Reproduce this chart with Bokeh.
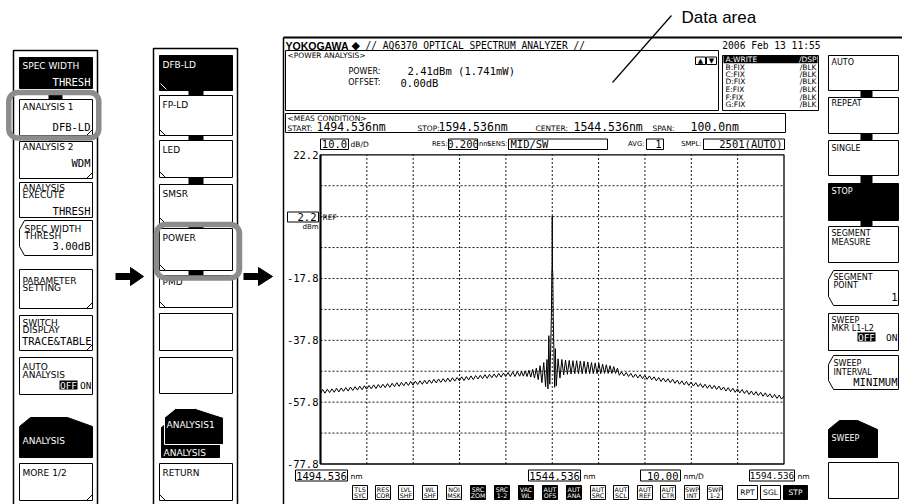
from bokeh.plotting import figure
from bokeh.models import Range1d
from bokeh.core.properties import value
from bokeh.embed import file_html
from bokeh.resources import INLINE

# ---------------- data ----------------
START_NM = 1494.536
STOP_NM = 1594.536
CENTER_NM = 1544.536
SPAN_NM = 100.0
REF_DBM = 2.2
DB_PER_DIV = 10.0
NM_PER_DIV = 10.00
Y_TICK_VALUES = [22.2, -17.8, -37.8, -57.8, -77.8]
Y_TICK_LABELS = ["22.2", "-17.8", "-37.8", "-57.8", "-77.8"]
X_TICK_LABELS = ["1494.536", "1544.536", "1594.536"]

WL_NM = [
    1494.54, 1495.0, 1495.5, 1496.0, 1496.5, 1497.0, 1497.5, 1498.0, 1498.5, 1499.0,
    1499.5, 1500.0, 1500.5, 1501.0, 1501.5, 1502.0, 1502.5, 1503.0, 1503.5, 1504.0,
    1504.5, 1505.0, 1505.5, 1506.0, 1506.5, 1507.0, 1507.5, 1508.0, 1508.5, 1509.0,
    1509.5, 1510.0, 1510.5, 1511.0, 1511.5, 1512.0, 1512.5, 1513.0, 1513.5, 1514.0,
    1514.5, 1515.0, 1515.5, 1516.0, 1516.5, 1517.0, 1517.5, 1518.0, 1518.5, 1519.0,
    1519.5, 1520.0, 1520.5, 1521.0, 1521.5, 1522.0, 1522.5, 1523.0, 1523.5, 1524.0,
    1524.5, 1525.0, 1525.5, 1526.0, 1526.5, 1527.0, 1527.5, 1528.0, 1528.5, 1529.0,
    1529.5, 1530.0, 1530.5, 1531.0, 1531.5, 1532.0, 1532.5, 1533.0, 1533.5, 1534.0,
    1534.5, 1535.0, 1535.5, 1536.0, 1536.5, 1537.0, 1537.5,
    1537.9, 1538.3, 1538.7, 1539.1, 1539.5, 1539.9, 1540.3, 1540.7, 1541.1, 1541.5,
    1541.9, 1542.3, 1542.7, 1543.1, 1543.4, 1543.6, 1543.8, 1544.0, 1544.2, 1544.35,
    1544.45, 1544.5, 1544.536, 1544.58, 1544.65, 1544.75, 1544.9, 1545.05, 1545.2, 1545.4,
    1545.8, 1546.2, 1546.6, 1547.0, 1547.4, 1547.8, 1548.2, 1548.6, 1549.0, 1549.4,
    1549.8, 1550.2, 1550.6, 1551.0, 1551.4, 1551.8, 1552.2, 1552.6, 1553.0, 1553.4,
    1553.8, 1554.2, 1554.6, 1555.0, 1555.4, 1555.8, 1556.2, 1556.6, 1557.0, 1557.4,
    1557.8, 1558.2, 1558.6,
    1559.0, 1559.5, 1560.0, 1560.5, 1561.0, 1561.5, 1562.0, 1562.5, 1563.0, 1563.5,
    1564.0, 1564.5, 1565.0, 1565.5, 1566.0, 1566.5, 1567.0, 1567.5, 1568.0, 1568.5,
    1569.0, 1569.5, 1570.0, 1570.5, 1571.0, 1571.5, 1572.0, 1572.5, 1573.0, 1573.5,
    1574.0, 1574.5, 1575.0, 1575.5, 1576.0, 1576.5, 1577.0, 1577.5, 1578.0, 1578.5,
    1579.0, 1579.5, 1580.0, 1580.5, 1581.0, 1581.5, 1582.0, 1582.5, 1583.0, 1583.5,
    1584.0, 1584.5, 1585.0, 1585.5, 1586.0, 1586.5, 1587.0, 1587.5, 1588.0, 1588.5,
    1589.0, 1589.5, 1590.0, 1590.5, 1591.0, 1591.5, 1592.0, 1592.5, 1593.0, 1593.5,
    1594.0, 1594.53,
]
LEVEL_DBM = [
    -55.0, -53.7, -54.9, -53.6, -54.7, -53.5, -54.6, -53.3, -54.5, -53.2,
    -54.3, -53.1, -54.2, -52.9, -54.0, -52.8, -53.9, -52.6, -53.8, -52.5,
    -53.6, -52.4, -53.5, -52.2, -53.4, -52.1, -53.2, -52.0, -53.1, -51.8,
    -53.0, -51.7, -52.8, -51.5, -52.7, -51.4, -52.5, -51.3, -52.4, -51.1,
    -52.3, -51.0, -52.1, -50.9, -52.0, -50.7, -51.9, -50.6, -51.7, -50.4,
    -51.6, -50.3, -51.4, -50.2, -51.3, -50.0, -51.2, -49.9, -51.0, -49.8,
    -50.9, -49.6, -50.8, -49.5, -50.6, -49.3, -50.5, -49.2, -50.3, -49.1,
    -50.2, -48.9, -50.1, -48.8, -49.9, -48.7, -49.8, -48.5, -49.7, -48.4,
    -49.5, -48.2, -49.5, -48.0, -49.5, -47.9, -49.4,
    -47.9, -49.4, -47.7, -49.5, -47.5, -49.7, -47.2, -50.0, -46.8, -50.5,
    -46.0, -51.5, -45.0, -52.8, -44.0, -53.5, -36.3, -52.0, -40.0, -30.0,
    -15.5, -14.0, 2.4, -14.5, -16.0, -30.0, -42.0, -53.0, -40.5, -52.5,
    -43.8, -50.0, -44.0, -49.0, -44.2, -48.8, -44.3, -48.7, -44.4, -48.6,
    -44.4, -48.6, -44.5, -48.6, -44.6, -48.6, -44.8, -48.6, -45.0, -48.6,
    -45.1, -48.6, -45.3, -48.6, -45.5, -48.5, -45.7, -48.5, -46.0, -48.5,
    -46.3, -48.5, -46.8,
    -49.1, -48.0, -49.3, -48.2, -49.5, -48.5, -49.8, -48.7, -50.0, -48.9,
    -50.2, -49.1, -50.4, -49.3, -50.6, -49.6, -50.9, -49.8, -51.1, -50.0,
    -51.3, -50.2, -51.5, -50.4, -51.7, -50.7, -52.0, -50.9, -52.2, -51.1,
    -52.4, -51.3, -52.6, -51.5, -52.8, -51.8, -53.1, -52.0, -53.3, -52.2,
    -53.5, -52.4, -53.7, -52.6, -53.9, -52.9, -54.2, -53.1, -54.4, -53.3,
    -54.6, -53.5, -54.8, -53.7, -55.0, -54.0, -55.3, -54.2, -55.5, -54.4,
    -55.7, -54.6, -55.9, -54.8, -56.1, -55.1, -56.4, -55.3, -56.6, -55.5,
    -56.8, -55.8,
]

# ---------------- page / layout (page pixel space) ----------------
REF_W, REF_H = 902, 504
PX_L, PX_R, PX_T, PX_B = 320.0, 783.5, 154.3, 463.5   # plot frame in page pixels

LBL = "DejaVu Sans"
MONO = "DejaVu Sans Mono"
VAL = 10.5

p = figure(width=REF_W, height=REF_H, x_range=Range1d(0, REF_W), y_range=Range1d(REF_H, 0),
           output_backend="svg", toolbar_location=None, min_border=0,
           x_axis_location=None, y_axis_location=None, outline_line_color=None)
p.grid.visible = False
p.background_fill_color = "white"
p.border_fill_color = "white"

TOP_DBM = REF_DBM + 2 * DB_PER_DIV
BOT_DBM = REF_DBM - 8 * DB_PER_DIV
nm_per_px = (STOP_NM - START_NM) / (PX_R - PX_L)
db_per_px = (TOP_DBM - BOT_DBM) / (PX_B - PX_T)
p.extra_x_ranges = {"wl": Range1d(START_NM - PX_L * nm_per_px, START_NM + (REF_W - PX_L) * nm_per_px)}
p.extra_y_ranges = {"db": Range1d(TOP_DBM - (REF_H - PX_T) * db_per_px, TOP_DBM + PX_T * db_per_px)}


def T(x, y, s, size=9, color="black", align="left", font=LBL, bold=False, **kw):
    p.text(x=[x], y=[y], text=[s], text_font=value(font), text_font_size=f"{size}px",
           text_color=color, text_align=align, text_baseline="middle",
           text_font_style="bold" if bold else "normal", **kw)


def box(x0, x1, y0, y1, fill="white", line="black", lw=1.0, **kw):
    p.quad(left=[x0], right=[x1], top=[y0], bottom=[y1], fill_color=fill,
           line_color=line, line_width=lw, **kw)


def chevron(x0, x1, y0, y1):
    p.patch([x0 + 5, x1, x1, x0 + 5, x0, x0], [y0, y0, y1, y1, y1 - 9, y0 + 9],
            fill_color="white", line_color="black", line_width=1)


def tab(x0, x1, y0, y1, rs=25, fill="black", line="black"):
    p.patch([x0, x0, x0 + 11, x1 - rs, x1, x1], [y1, y0 + 9, y0, y0, y0 + 9, y1],
            fill_color=fill, line_color=line, line_width=1)


def corner_r(x1, y1, color="black"):
    p.line([x1 - 6, x1], [y1, y1 - 6], color=color, line_width=1)


def corner_l(x0, y1, color="black"):
    p.line([x0, x0 + 6], [y1 - 6, y1], color=color, line_width=1)


def arrow(x0, x1, xt, yc):
    box(x0, x1 + 1, yc - 3.5, yc + 3.5, fill="black", line=None)
    p.patch([x1, xt, x1], [yc - 9, yc, yc + 9], fill_color="black", line_color="black")


# ---------------- left menu 1 ----------------
box(13, 97, 50, 510, lw=1.5)
bx0, bx1 = 19, 92
box(bx0, bx1, 57, 88, fill="black")
T(22, 65, "SPEC WIDTH", color="white")
T(90, 81, "THRESH", size=VAL, color="white", align="right", font=MONO)
box(48, 62, 94, 99, fill="black", line=None)
box(48, 62, 135, 140, fill="black", line=None)
box(bx0, bx1, 99, 135)
T(22, 106.5, "ANALYSIS 1")
T(90, 126, "DFB-LD", size=VAL, align="right", font=MONO)
corner_r(bx1, 135)
box(bx0, bx1, 141, 178)
T(22, 146, "ANALYSIS 2")
T(90, 162, "WDM", size=VAL, align="right", font=MONO)
corner_r(bx1, 178)
box(bx0, bx1, 182, 217)
T(22, 187, "ANALYSIS")
T(22, 194.5, "EXECUTE")
T(90, 210, "THRESH", size=VAL, align="right", font=MONO)
chevron(bx0, bx1, 220, 255)
T(24, 228, "SPEC WIDTH")
T(24, 235.5, "THRESH")
T(90, 245.5, "3.00dB", size=VAL, align="right", font=MONO)
box(bx0, bx1, 269, 308)
T(22, 280, "PARAMETER")
T(22, 287.5, "SETTING")
corner_r(bx1, 308)
box(bx0, bx1, 315, 350)
T(22, 322, "SWITCH")
T(22, 329.5, "DISPLAY")
T(91, 340.5, "TRACE&TABLE", size=VAL, align="right", font=MONO)
corner_r(bx1, 350)
box(bx0, bx1, 357, 394)
T(22, 366.5, "AUTO")
T(22, 374, "ANALYSIS")
box(59, 77, 380, 389, fill="black", line=None)
T(68, 384.5, "OFF", size=9.5, color="white", align="center", font=MONO)
T(91, 384.5, "ON", size=9.5, align="right", font=MONO)
tab(bx0, bx1, 417, 457)
T(22, 440, "ANALYSIS", color="white")
box(bx0, bx1, 463, 500)
T(22, 472, "MORE 1/2")
corner_r(bx1, 500)
box(8.3, 98.3, 92, 137.5, fill=None, line="#8c8c8c", lw=5.5, border_radius=9)

arrow(115, 130, 143, 276)

# ---------------- left menu 2 ----------------
box(153, 237, 48, 510, lw=1.5)
cx0, cx1 = 159, 232
for (a, b) in [(90, 95), (135, 140), (177, 184), (223, 228), (270, 275)]:
    box(188, 203, a, b, fill="black", line=None)
box(cx0, cx1, 55, 90, fill="black")
T(162, 64, "DFB-LD", color="white")
corner_l(cx0 + 1, 89, color="white")
for (y0, y1, s) in [(95, 135, "FP-LD"), (140, 177, "LED"), (184, 223, "SMSR"),
                    (228, 270, "POWER"), (275, 307, "PMD")]:
    box(cx0, cx1, y0, y1)
    T(162, y0 + (6 if s == "PMD" else 9.5), s)
    corner_l(cx0, y1)
box(cx0, cx1, 313, 350)
box(cx0, cx1, 357, 393)
tab(161, 219, 418, 457, rs=22)
tab(164, 223, 408, 444, rs=28, line="white")
T(166, 424, "ANALYSIS1", color="white")
T(163, 452.5, "ANALYSIS", color="white")
box(cx0, cx1, 463, 500)
T(162, 472, "RETURN")
corner_l(cx0, 500)
box(156, 239, 224, 277.5, fill=None, line="#8c8c8c", lw=5.5, border_radius=9)

arrow(243, 258, 272, 276)

# ---------------- instrument screen ----------------
p.line([283, 902], [37, 37], color="black", line_width=2)
p.line([283, 283], [37, 504], color="black", line_width=1.5)
T(285, 45, "YOKOGAWA", size=10.5, bold=True, font="Liberation Sans")
T(351, 45, "\u25c6", size=11)
T(365, 45, "// AQ6370 OPTICAL SPECTRUM ANALYZER //", size=9.6, font=MONO)
T(820, 45, "2006 Feb 13 11:55", size=9.6, font=MONO, align="right")

# data area
box(285, 718, 50, 110)
T(287, 54.5, "<POWER ANALYSIS>", size=7.5)
T(380, 70.5, "POWER:", size=8, align="right")
T(380, 82, "OFFSET:", size=8, align="right")
T(407, 70, "2.41dBm (1.741mW)", size=VAL, font=MONO)
T(400, 82, "0.00dB", size=VAL, font=MONO)
box(695, 705, 56.5, 64)
box(706, 716, 56.5, 64)
T(700, 60.5, "\u25b2", size=7, align="center")
T(711, 60.5, "\u25bc", size=7, align="center")

# trace table
box(722, 818, 55, 110)
box(723, 817, 55.5, 62.8, fill="black", line=None)
TRACE_ROWS = ["A:WRITE", "B:FIX", "C:FIX", "D:FIX", "E:FIX", "F:FIX", "G:FIX"]
TRACE_MODE = ["/DSP", "/BLK", "/BLK", "/BLK", "/BLK", "/BLK", "/BLK"]
row_y = [59.3, 66.5, 74, 81.3, 89, 96.5, 104]
for i, (a, b) in enumerate(zip(TRACE_ROWS, TRACE_MODE)):
    c = "white" if i == 0 else "black"
    T(725, row_y[i], a, size=7.5, color=c)
    T(816, row_y[i], b, size=7.5, color=c, align="right")

# measurement condition
SMALL = 6.8
box(285, 785, 113, 132)
T(287, 117.5, "<MEAS CONDITION>", size=7.5)
T(287, 127.5, "START:", size=7.5)
T(316, 126.5, f"{START_NM:.3f}nm", size=11.5, font=MONO)
T(417, 127.5, "STOP:", size=7.5)
T(438, 126.5, f"{STOP_NM:.3f}nm", size=11.5, font=MONO)
T(535, 127.5, "CENTER:", size=7.5)
T(573, 126.5, f"{CENTER_NM:.3f}nm", size=11.5, font=MONO)
T(652, 127.5, "SPAN:", size=7.5)
T(690, 126.5, f"{SPAN_NM:.1f}nm", size=11.5, font=MONO)

# settings row
box(320, 348, 138.5, 149)
T(334, 143.5, f"{DB_PER_DIV:.1f}", size=VAL, font=MONO, align="center")
T(350, 143.5, "dB/D", size=7.5)
T(447, 143.5, "RES:", size=SMALL, align="right")
box(448, 477, 138.5, 149)
T(462.5, 143.5, "0.200", size=VAL, font=MONO, align="center")
T(478.5, 143.5, "nm", size=SMALL)
T(507, 143.5, "SENS:", size=SMALL, align="right")
box(508, 607, 138.5, 149)
T(510, 143.5, "MID/SW", size=VAL, font=MONO)
T(644, 143.5, "AVG:", size=SMALL, align="right")
box(646, 663, 138.5, 149)
T(661, 143.5, "1", size=VAL, font=MONO, align="right")
T(701, 143.5, "SMPL:", size=SMALL, align="right")
box(703, 784, 138.5, 149)
T(782, 143.5, "2501(AUTO)", size=VAL, font=MONO, align="right")

# grid and frame (data coordinates)
gx = [START_NM + k * NM_PER_DIV for k in range(1, 10)]
p.segment(x0=gx, x1=gx, y0=[BOT_DBM] * 9, y1=[TOP_DBM] * 9, x_range_name="wl",
          y_range_name="db", line_color="black", line_width=0.9, line_dash="2 2")
gy = [TOP_DBM - k * DB_PER_DIV for k in range(1, 10)]
p.segment(x0=[START_NM] * 9, x1=[STOP_NM] * 9, y0=gy, y1=gy, x_range_name="wl",
          y_range_name="db", line_color="black", line_width=0.9, line_dash="2 2")
p.quad(left=[START_NM], right=[STOP_NM], top=[TOP_DBM], bottom=[BOT_DBM], fill_color=None,
       line_color="black", line_width=1.3, x_range_name="wl", y_range_name="db")
p.segment(x0=[START_NM], x1=[START_NM], y0=[BOT_DBM], y1=[TOP_DBM], x_range_name="wl",
          y_range_name="db", line_color="black", line_width=2)

# spectrum trace
p.line(x=WL_NM, y=LEVEL_DBM, x_range_name="wl", y_range_name="db",
       line_color="black", line_width=1)

# y labels
p.text(x=[318] * len(Y_TICK_VALUES), y=Y_TICK_VALUES, text=Y_TICK_LABELS, y_range_name="db",
       text_font=value(MONO), text_font_size="10.5px", text_align="right",
       text_baseline="middle", text_color="black")
box(287, 318, 211.5, 221.5)
p.text(x=[316], y=[REF_DBM], text=[f"{REF_DBM:.1f}"], y_range_name="db",
       text_font=value(MONO), text_font_size="10.5px", text_align="right",
       text_baseline="middle", text_color="black")
T(318, 226.8, "dBm", size=7, align="right")
T(322, 216.5, "REF", size=7.5)

# x labels
XL_BOX = [(295, 347, 10.5), (528, 580, 10.5), (749, 794, 9.2)]
for (a, b, fs), s in zip(XL_BOX, X_TICK_LABELS):
    box(a, b, 469.5, 480.5)
    T((a + b) / 2, 475, s, size=fs, font=MONO, align="center")
    T(b + 3, 475.5, "nm", size=7.5)
box(640, 680, 469.5, 480.5)
T(678, 475, f"{NM_PER_DIV:.2f}", size=VAL, font=MONO, align="right")
T(683, 475.5, "nm/D", size=7.5)

# soft key strip
BTN_X = [352, 375, 398, 422, 446, 470, 494, 518, 542, 566, 590, 613, 637, 660, 684, 707]
BTN_T1 = ["TLS", "RES", "LVL", "WL", "NOI", "SRC", "SRC", "VAC", "AUT", "AUT",
          "AUT", "AUT", "AUT", "AUT", "SWP", "SWP"]
BTN_T2 = ["SYC", "COR", "SHF", "SHF", "MSK", "ZOM", "1-2", "WL", "OFS", "ANA",
          "SRC", "SCL", "REF", "CTR", "INT", "1-2"]
BTN_ON = [0, 0, 0, 0, 0, 1, 1, 1, 1, 1, 0, 0, 0, 0, 0, 0]
for x, a, b, on in zip(BTN_X, BTN_T1, BTN_T2, BTN_ON):
    box(x, x + 15, 485, 499, fill="black" if on else "white")
    c = "white" if on else "black"
    T(x + 7.5, 488.8, a, size=6.3, color=c, align="center")
    T(x + 7.5, 495.2, b, size=6.3, color=c, align="center")
for (a, b, s, on) in [(737, 757, "RPT", 0), (760, 780, "SGL", 0), (783, 807, "STP", 1)]:
    box(a, b, 485, 499, fill="black" if on else "white")
    T((a + b) / 2, 492, s, size=7.5, color="white" if on else "black", align="center")

# ---------------- right soft-key panel ----------------
rx0, rx1 = 828, 898
for (a, b) in [(90, 97), (133, 140), (175, 183), (220, 226)]:
    box(860, 872, a, b, fill="black", line=None)
box(rx0, rx1, 55, 90)
T(831, 62, "AUTO", size=8)
box(rx0, rx1, 97, 133)
T(831, 103, "REPEAT", size=8)
box(rx0, rx1, 140, 175)
T(831, 148, "SINGLE", size=8)
box(rx0, rx1, 183, 220, fill="black")
T(831, 191, "STOP", size=8, color="white")
box(rx0, rx1, 226, 262)
T(831, 233, "SEGMENT", size=8)
T(831, 241.5, "MEASURE", size=8)
chevron(rx0, rx1, 270, 305)
T(833, 277, "SEGMENT", size=8)
T(833, 285, "POINT", size=8)
T(897, 296.5, "1", size=VAL, font=MONO, align="right")
box(rx0, rx1, 313, 350)
T(831, 319.5, "SWEEP", size=8)
T(831, 327.5, "MKR L1-L2", size=8)
box(857, 875, 332, 341, fill="black", line=None)
T(866, 336.5, "OFF", size=9.5, color="white", align="center", font=MONO)
T(897, 336.5, "ON", size=9.5, align="right", font=MONO)
chevron(rx0, rx1, 355, 389)
T(833, 363, "SWEEP", size=8)
T(833, 371.5, "INTERVAL", size=8)
T(897, 381.5, "MINIMUM", size=VAL, align="right", font=MONO)
tab(rx0, 877, 420, 457, rs=20)
T(831, 438, "SWEEP", size=8, color="white")
box(rx0, rx1, 462, 498)

# ---------------- callout ----------------
p.line([671, 612], [15, 82], color="black", line_width=1.2)
T(681, 17, "Data area", size=17, font="Liberation Sans")

open("out.html", "w").write(file_html(p, INLINE))
